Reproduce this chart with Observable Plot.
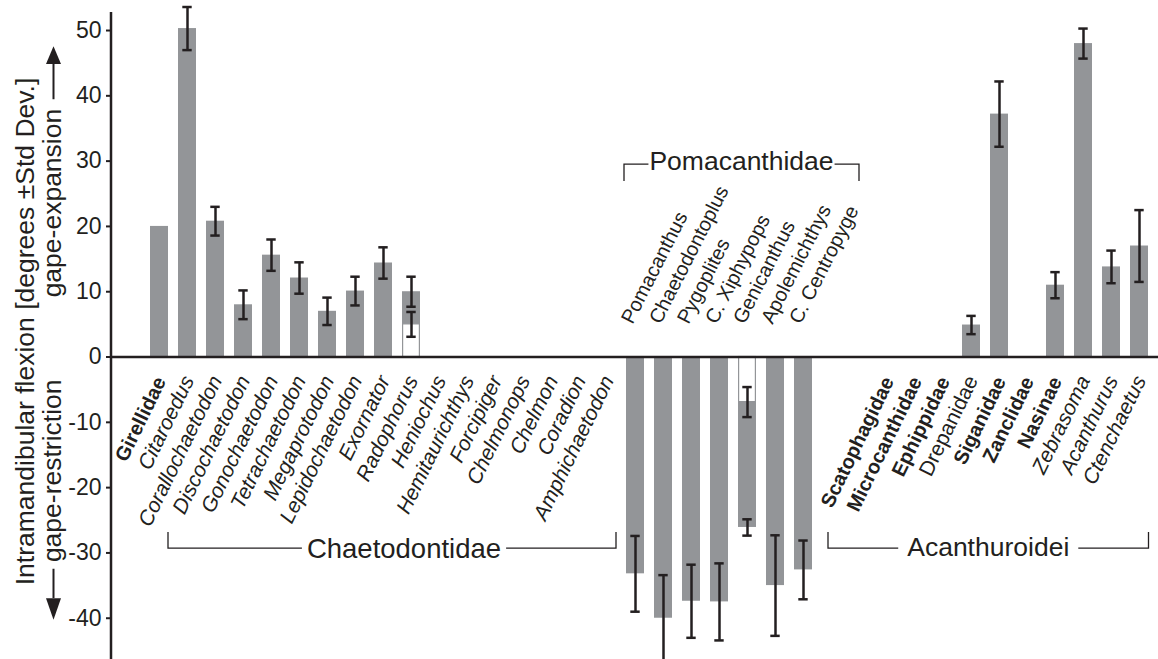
<!DOCTYPE html>
<html>
<head>
<meta charset="utf-8">
<script src="https://cdn.jsdelivr.net/npm/d3@7"></script>
<script src="https://cdn.jsdelivr.net/npm/@observablehq/plot@0.6"></script>
<style>
  html, body { margin: 0; padding: 0; background: #fff; }
  svg { display: block; }
</style>
</head>
<body>
<div id="chart"></div>
<script>
// ---------------- data ----------------
const chaetoNames = ["Girellidae", "Citaroedus", "Corallochaetodon", "Discochaetodon", "Gonochaetodon",
  "Tetrachaetodon", "Megaprotodon", "Lepidochaetodon", "Exornator", "Radophorus", "Heniochus",
  "Hemitaurichthys", "Forcipiger", "Chelmonops", "Chelmon", "Coradion", "Amphichaetodon"];
const chaetoMeans = [20.0, 50.3, 20.8, 8.0, 15.6, 12.1, 7.0, 10.1, 14.4, 10.0, null, null, null, null, null, null, null];
const chaetoSDs   = [null, 3.3, 2.2, 2.2, 2.4, 2.4, 2.1, 2.2, 2.4, 2.3, null, null, null, null, null, null, null];

const pomaNames = ["Pomacanthus", "Chaetodontoplus", "Pygoplites", "C. Xiphypops", "Genicanthus", "Apolemichthys", "C. Centropyge"];
const pomaMeans = [-33.2, -40.0, -37.4, -37.5, -26.1, -35.0, -32.6];
const pomaSDs   = [5.8, 6.6, 5.6, 5.9, 1.25, 7.7, 4.5];

const acanthNames = ["Scatophagidae", "Microcanthidae", "Ephippidae", "Drepanidae", "Siganidae",
  "Zanclidae", "Nasinae", "Zebrasoma", "Acanthurus", "Ctenchaetus"];
const acanthMeans = [null, null, null, 4.9, 37.2, null, 11.0, 48.0, 13.8, 17.0];
const acanthSDs   = [null, null, null, 1.4, 5.0, null, 2.0, 2.3, 2.5, 5.5];

// second (inner) measurements drawn as open bars
const secondNames = ["Radophorus", "Genicanthus"];
const secondMeans = [5.0, -6.9];
const secondSDs   = [1.9, 2.3];

// family-rank names (upright bold labels)
const familyNames = ["Girellidae", "Scatophagidae", "Microcanthidae", "Ephippidae", "Siganidae", "Zanclidae", "Nasinae"];
const plainNames = ["Drepanidae"];

const groupLabels = ["Chaetodontidae", "Pomacanthidae", "Acanthuroidei"];
const yTicks = [-40, -30, -20, -10, 0, 10, 20, 30, 40, 50];
const yTitle = "Intramandibular flexion [degrees ±Std Dev.]";
const upTitle = "gape-expansion";
const downTitle = "gape-restriction";

// ---------------- build tables ----------------
const build = (names, means, sds, group) => names.map((name, i) => ({name, mean: means[i], sd: sds[i], group}));
const rows = [
  ...build(chaetoNames, chaetoMeans, chaetoSDs, groupLabels[0]),
  ...build(pomaNames, pomaMeans, pomaSDs, groupLabels[1]),
  ...build(acanthNames, acanthMeans, acanthSDs, groupLabels[2])
];
const second = build(secondNames, secondMeans, secondSDs, "second");
const spacers = [" ", "  "];
const domain = [...chaetoNames, ...pomaNames, ...spacers, ...acanthNames];

const bars = rows.filter(d => d.mean != null);
const errs = [...rows, ...second].filter(d => d.mean != null && d.sd != null);

const ink = "#231f20";
const grey = "#939598";
const font = "'Liberation Sans', Arial, Helvetica, sans-serif";

const familySet = new Set(familyNames);
const plainSet = new Set(plainNames);
const lower = rows.filter(d => d.group !== groupLabels[1]);
const lowerItalic = lower.filter(d => !familySet.has(d.name) && !plainSet.has(d.name));
const lowerBold = lower.filter(d => familySet.has(d.name));
const lowerPlain = lower.filter(d => plainSet.has(d.name));
const upper = rows.filter(d => d.group === groupLabels[1]);

const lowerText = {x: "name", y: d => 0, text: "name", textAnchor: "end", rotate: -64,
  dx: 7, dy: 23, lineAnchor: "bottom", fontSize: 21, fill: ink};

const chart = Plot.plot({
  width: 1158,
  height: 659,
  marginLeft: 111,
  marginRight: 0,
  marginTop: 12,
  marginBottom: 0,
  style: {fontFamily: font, color: ink, background: "white", overflow: "hidden"},
  x: {type: "band", domain, range: [136.26, 1161.9], paddingInner: 0.35, paddingOuter: 0.175, axis: null},
  y: {domain: [-46.32, 52.76]},
  marks: [
    Plot.barY(bars, {x: "name", y: "mean", fill: grey}),
    Plot.barY(second, {x: "name", y: "mean", fill: "white", stroke: grey, strokeWidth: 1.2, insetLeft: 0.6, insetRight: 0.6}),
    Plot.ruleX(errs, {x: "name", y1: d => d.mean - d.sd, y2: d => d.mean + d.sd, stroke: ink, strokeWidth: 2.5}),
    Plot.tickY(errs, {x: "name", y: d => d.mean + d.sd, stroke: ink, strokeWidth: 2.5, insetLeft: 4.3, insetRight: 4.3}),
    Plot.tickY(errs, {x: "name", y: d => d.mean - d.sd, stroke: ink, strokeWidth: 2.5, insetLeft: 4.3, insetRight: 4.3}),
    Plot.ruleY([0], {stroke: ink, strokeWidth: 2.5}),
    Plot.axisY({ticks: yTicks, tickSize: 5, tickPadding: 5, fontSize: 23, tickFormat: d => String(d),
      label: null, stroke: ink, strokeWidth: 2, fill: ink}),
    Plot.text(lowerItalic, {...lowerText, fontStyle: "italic"}),
    Plot.text(lowerBold, {...lowerText, fontSize: 20, dy: 24, fontWeight: "bold"}),
    Plot.text(lowerPlain, {...lowerText}),
    Plot.text(upper, {x: "name", y: d => 0, text: "name", textAnchor: "start", rotate: -63,
      dx: -3, dy: -32, lineAnchor: "bottom", fontSize: 20, fill: ink})
  ]
});

document.getElementById("chart").appendChild(chart);

// ---------------- annotations (positions from the plot's scales) ----------------
const svg = d3.select(chart);
const xs = chart.scale("x");
const ys = chart.scale("y");
const bw = xs.bandwidth;
const cx = n => xs.apply(n) + bw / 2;
const y0 = ys.apply(0);
const [yBottom, yTop] = ys.range;
const axisX = 111;

const ann = svg.append("g").attr("font-family", font).attr("fill", ink);

// y axis line
ann.append("line").attr("x1", axisX).attr("x2", axisX).attr("y1", yTop).attr("y2", yBottom + 2)
  .attr("stroke", ink).attr("stroke-width", 2.5);

// y-axis title
ann.append("text").attr("transform", `translate(34,${(yTop + yBottom) / 2 - 4}) rotate(-90)`)
  .attr("text-anchor", "middle").attr("font-size", 26.5).text(yTitle);

const upCenter = ys.apply(23.5);
const downCenter = ys.apply(-17.5);
ann.append("text").attr("transform", `translate(61,${upCenter}) rotate(-90)`)
  .attr("text-anchor", "middle").attr("font-size", 26.5).text(upTitle);
ann.append("text").attr("transform", `translate(61,${downCenter}) rotate(-90)`)
  .attr("text-anchor", "middle").attr("font-size", 26.5).text(downTitle);

// arrows
const ax = 53.5;
ann.append("line").attr("x1", ax).attr("x2", ax).attr("y1", ys.apply(39.4)).attr("y2", ys.apply(45))
  .attr("stroke", ink).attr("stroke-width", 2);
ann.append("path").attr("d", `M${ax},${ys.apply(47.5)} L${ax - 7.5},${ys.apply(44.8)} L${ax + 7.5},${ys.apply(44.8)} Z`).attr("fill", ink);
ann.append("line").attr("x1", ax).attr("x2", ax).attr("y1", ys.apply(-32.5)).attr("y2", ys.apply(-37))
  .attr("stroke", ink).attr("stroke-width", 2);
ann.append("path").attr("d", `M${ax},${ys.apply(-40.3)} L${ax - 7.5},${ys.apply(-37)} L${ax + 7.5},${ys.apply(-37)} Z`).attr("fill", ink);

// brackets
function bracket(x1, x2, yLine, yEnd, label, center, baseline, gap, size) {
  const t = ann.append("text").attr("x", center).attr("y", baseline).attr("text-anchor", "middle")
    .attr("font-size", size).text(label);
  const w = t.node().getComputedTextLength();
  const g = ann.append("g").attr("stroke", ink).attr("stroke-width", 1.3).attr("fill", "none");
  g.append("path").attr("d", `M${x1},${yEnd} V${yLine} H${center - w / 2 - gap}`);
  g.append("path").attr("d", `M${center + w / 2 + gap},${yLine} H${x2} V${yEnd}`);
}
{
  const x1 = cx(chaetoNames[1]) - 19, x2 = cx(chaetoNames[chaetoNames.length - 1]) + 9;
  bracket(x1, x2, y0 + 191.5, y0 + 175.5, groupLabels[0], (x1 + x2) / 2 + 12, y0 + 201, 5, 27.5);
}
{
  const x1 = xs.apply(pomaNames[0]) - 2, x2 = cx(pomaNames[pomaNames.length - 1]) + 56;
  bracket(x1, x2, y0 - 192.5, y0 - 175.5, groupLabels[1], (x1 + x2) / 2, y0 - 186.5, 1, 26.5);
}
{
  const x1 = cx(acanthNames[0]) - 59, x2 = cx(acanthNames[acanthNames.length - 1]) + 9.5;
  bracket(x1, x2, y0 + 191.5, y0 + 175.5, groupLabels[2], (x1 + x2) / 2, y0 + 199.5, 9, 26.5);
}
</script>
</body>
</html>
